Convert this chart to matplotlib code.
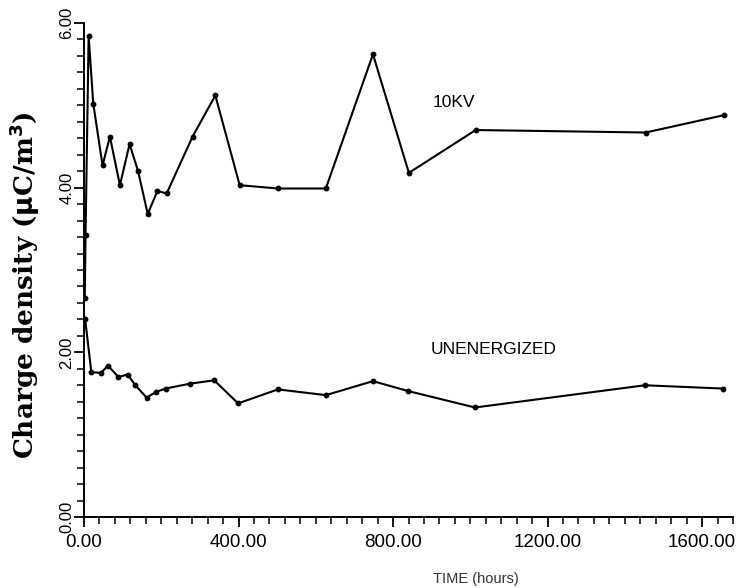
import matplotlib
matplotlib.use("Agg")
import matplotlib.pyplot as plt
from matplotlib.ticker import MultipleLocator, FormatStrFormatter

# Charge density measurements over time (hours)
time_10kv = [2, 4, 12, 24, 48, 67, 93, 118, 140, 165, 190, 214, 281, 340,
             403, 502, 626, 748, 841, 1014, 1454, 1656]
charge_10kv = [2.66, 3.42, 5.84, 5.02, 4.27, 4.62, 4.03, 4.53, 4.20, 3.68,
               3.96, 3.93, 4.62, 5.12, 4.03, 3.99, 3.99, 5.62, 4.18, 4.70,
               4.67, 4.88]

time_unen = [3, 19, 44, 62, 89, 113, 133, 162, 187, 211, 275, 337, 399,
             502, 626, 748, 839, 1012, 1452, 1654]
charge_unen = [2.40, 1.76, 1.75, 1.84, 1.70, 1.73, 1.60, 1.45, 1.52, 1.56,
               1.62, 1.66, 1.38, 1.55, 1.48, 1.65, 1.53, 1.33, 1.60, 1.56]

x_ticks = [0, 400, 800, 1200, 1600]
y_ticks = [0, 2, 4, 6]

fig = plt.figure(figsize=(7.51, 5.88), dpi=100)
ax = fig.add_axes([84 / 751, 71 / 588, 649 / 751, 494 / 588])

line_kw = dict(color="black", lw=1.5, marker="o", ms=3.2, mfc="black", mec="black")
ax.plot(time_10kv, charge_10kv, **line_kw)
ax.plot(time_unen, charge_unen, **line_kw)

ax.set_xlim(0, 1680)
ax.set_ylim(0, 6)

for side in ("top", "right"):
    ax.spines[side].set_visible(False)
for side in ("left", "bottom"):
    ax.spines[side].set_linewidth(1.4)

ax.set_xticks(x_ticks)
ax.set_yticks(y_ticks)
ax.xaxis.set_minor_locator(MultipleLocator(40))
ax.yaxis.set_minor_locator(MultipleLocator(0.2))
ax.xaxis.set_major_formatter(FormatStrFormatter("%.2f"))
ax.yaxis.set_major_formatter(FormatStrFormatter("%.2f"))

ax.tick_params(which="major", direction="out", length=7, width=1.3, color="black")
ax.tick_params(which="minor", direction="out", length=5, width=1.1, color="black")
ax.tick_params(axis="x", which="major", labelsize=13.5, pad=5)
ax.tick_params(axis="y", which="major", labelsize=12, pad=0, labelrotation=90)

for lbl in ax.get_xticklabels():
    lbl.set_fontfamily("Liberation Sans")
for lbl in ax.get_yticklabels():
    lbl.set_fontfamily("Liberation Sans")
    lbl.set_va("center")

ax.set_xlabel("TIME (hours)", fontsize=10.5, family="Liberation Sans", color="#333333")
ax.xaxis.set_label_coords((476 - 84) / 649, (517 - 572) / 494)

ax.set_ylabel(r"Charge density ($\mathbf{\mu}$C/m$^\mathbf{3}$)", fontsize=19,
              family="DejaVu Serif", fontweight="bold")
ax.yaxis.set_label_coords((42 - 84) / 649, (517 - 285) / 494)

# annotation positions expressed in data units (hours, µC/m³)
ax.text(958, 5.04, "10KV", fontsize=12.5, family="Liberation Sans",
        ha="center", va="center")
ax.text(898, 2.03, "UNENERGIZED", fontsize=12.5, family="Liberation Sans",
        ha="left", va="center")

fig.savefig("out.png", dpi=100)
